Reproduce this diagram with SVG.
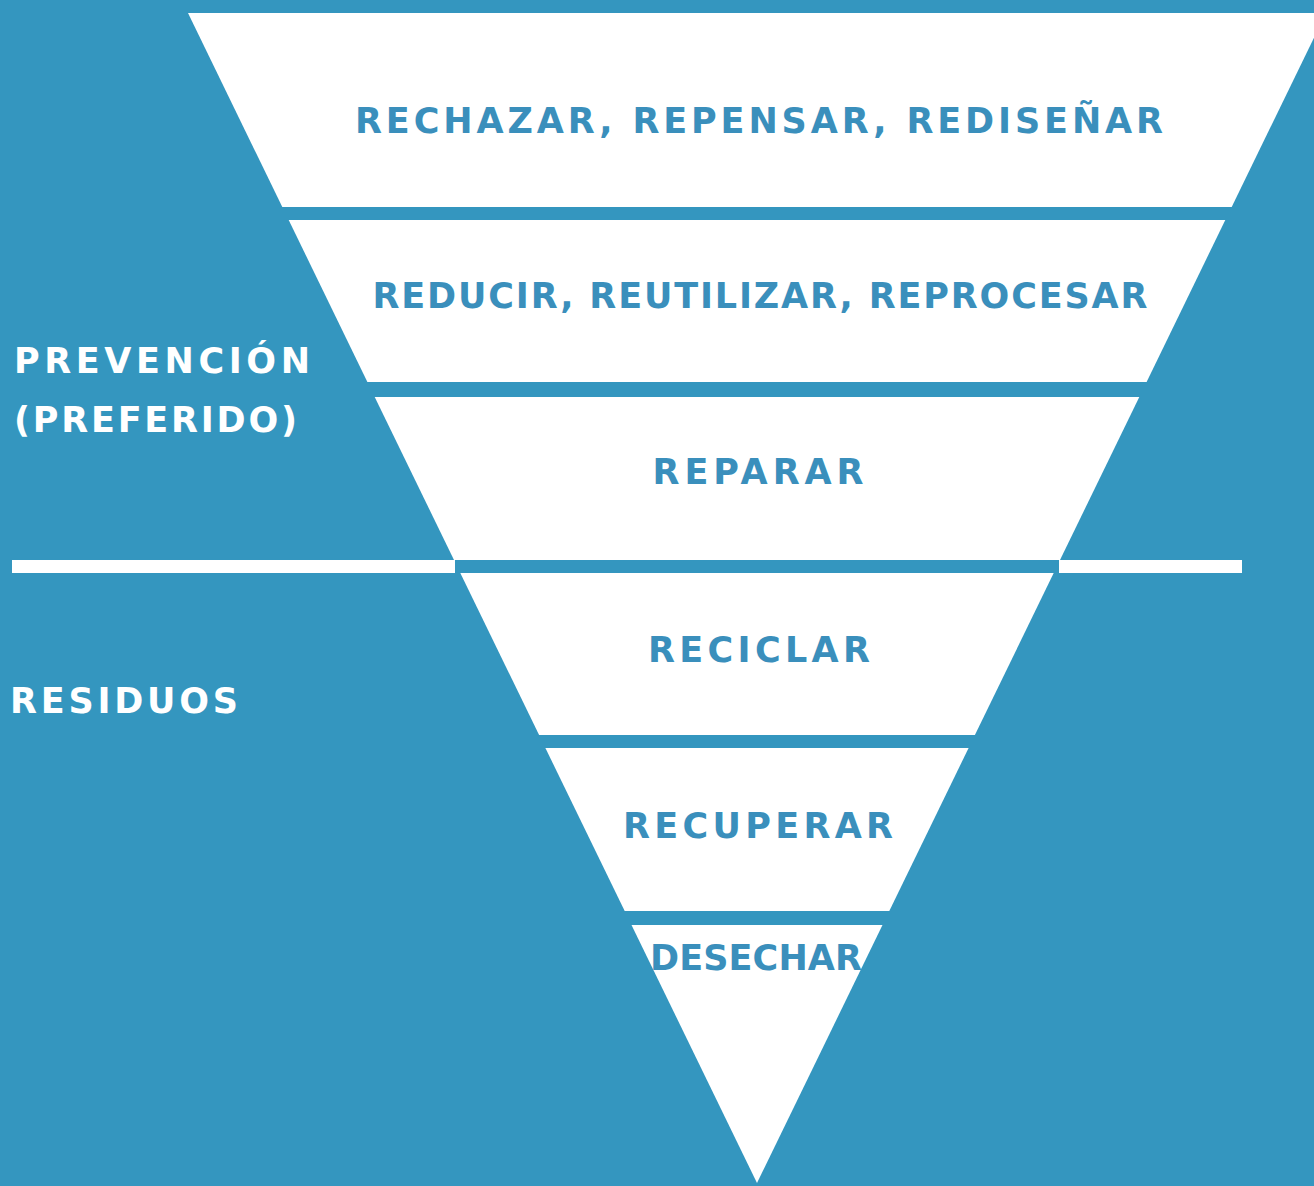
<svg xmlns="http://www.w3.org/2000/svg" width="1314" height="1186" viewBox="0 0 1314 1186">
<style>
.band{fill:#ffffff}
.lbl{font-family:"DejaVu Sans","Open Sans",sans-serif;font-weight:700;font-size:35px;fill:#3a8fbc;text-anchor:middle}
.side{font-family:"DejaVu Sans","Open Sans",sans-serif;font-weight:700;font-size:35px;fill:#ffffff}
.sep{fill:#ffffff}
</style>
<rect x="0" y="0" width="1314" height="1186" fill="#3496bf"/>
<g id="band1">
<polygon class="band" points="188,13 1326,13 1231.7,207 282.3,207"/>
<text class="lbl" x="759" y="133" textLength="808" lengthAdjust="spacing">RECHAZAR, REPENSAR, REDISEÑAR</text>
</g>
<g id="band2">
<polygon class="band" points="288.7,220 1225.3,220 1146.6,382 367.4,382"/>
<text class="lbl" x="760" y="308" textLength="775" lengthAdjust="spacing">REDUCIR, REUTILIZAR, REPROCESAR</text>
</g>
<g id="band3">
<polygon class="band" points="374.7,397 1139.3,397 1060,560 454,560"/>
<text class="lbl" x="758" y="484" textLength="211" lengthAdjust="spacing">REPARAR</text>
</g>
<g id="band4">
<polygon class="band" points="460.3,573 1053.7,573 974.9,735 539.1,735"/>
<text class="lbl" x="759" y="662" textLength="222" lengthAdjust="spacing">RECICLAR</text>
</g>
<g id="band5">
<polygon class="band" points="545.4,748 968.6,748 889.3,911 624.7,911"/>
<text class="lbl" x="758" y="838" textLength="270" lengthAdjust="spacing">RECUPERAR</text>
</g>
<g id="band6">
<polygon class="band" points="631.5,925 882.5,925 757,1183"/>
<text class="lbl" x="756" y="970" textLength="212" lengthAdjust="spacing">DESECHAR</text>
</g>
<g id="divider">
<rect class="sep" x="12" y="560" width="443" height="13"/>
<rect class="sep" x="1059" y="560" width="183" height="13"/>
</g>
<g id="prevencion">
<text class="side" x="14" y="373" textLength="296" lengthAdjust="spacing">PREVENCIÓN</text>
<text class="side" x="14" y="432" textLength="283" lengthAdjust="spacing">(PREFERIDO)</text>
</g>
<g id="residuos">
<text class="side" x="10" y="713" textLength="228" lengthAdjust="spacing">RESIDUOS</text>
</g>
<g id="connectors"></g>
</svg>
